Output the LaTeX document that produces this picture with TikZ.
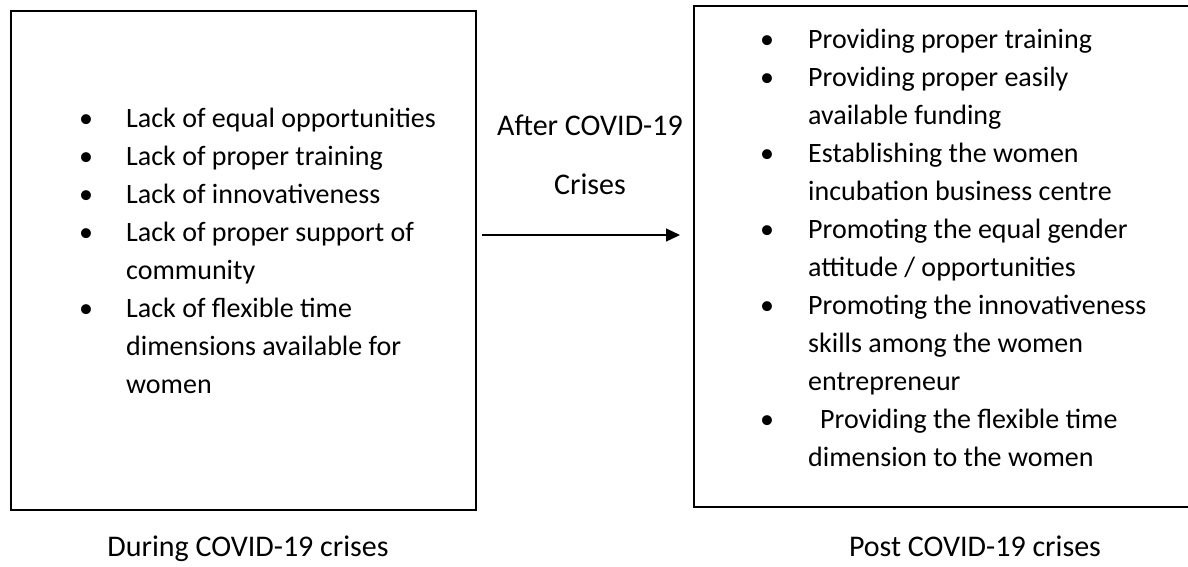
\documentclass[tikz,border=0pt]{standalone}
\usepackage{fontspec}
\setmainfont{Carlito}
\usepackage{tikz}
\usetikzlibrary{arrows.meta}
\usetikzlibrary{positioning}

\tikzset{
  box/.style={draw,line width=2.5pt,inner sep=0pt},
  listtext/.style={draw=none,align=left,inner sep=0pt,anchor=base west,
    font=\fontsize{28}{38}\selectfont},
  caption/.style={draw=none,inner sep=0pt,anchor=base,
    font=\fontsize{30}{36}\selectfont},
}
\newcommand{\bul}{\makebox[20pt]{\textbullet}}

\begin{document}
\begin{tikzpicture}[x=1pt,y=-1pt]
\clip (0,0) rectangle (1188,566);

\node[box,minimum width=465pt,minimum height=499pt] (during) at (243.5,260.5) {};
\node[box,minimum width=558pt,minimum height=501pt] (post) at (973,256.5) {};

\node[listtext] (duringlist) at (76,127) {\begin{tabular}[t]{@{}l@{\hspace{30pt}}l@{}}
\bul & Lack of equal opportunities\\
\bul & Lack of proper training\\
\bul & Lack of innovativeness\\
\bul & Lack of proper support of\\
     & community\\
\bul & Lack of flexible time\\
     & dimensions available for\\
     & women
\end{tabular}};

\node[listtext] (postlist) at (757,48) {\begin{tabular}[t]{@{}l@{\hspace{31pt}}l@{}}
\bul & Providing proper training\\
\bul & Providing proper easily\\
     & available funding\\
\bul & Establishing the women\\
     & incubation business centre\\
\bul & Promoting the equal gender\\
     & attitude / opportunities\\
\bul & Promoting the innovativeness\\
     & skills among the women\\
     & entrepreneur\\
\bul & \hspace{12pt}Providing the flexible time\\
     & dimension to the women
\end{tabular}};

% label over the arrow
\node[caption] (after) at (590,135) {After COVID-19};
\node[caption] (crises) at (590,194) {Crises};

\coordinate (arrowstart) at (482,235);
\coordinate (arrowend) at (680,235);
\draw[line width=1.2pt,-{Triangle[length=14pt,width=13pt]}] (arrowstart) -- (arrowend);

\node[caption] (duringcap) at (248,556) {During COVID-19 crises};
\node[caption] (postcap) at (975,556) {Post COVID-19 crises};

\end{tikzpicture}
\end{document}
